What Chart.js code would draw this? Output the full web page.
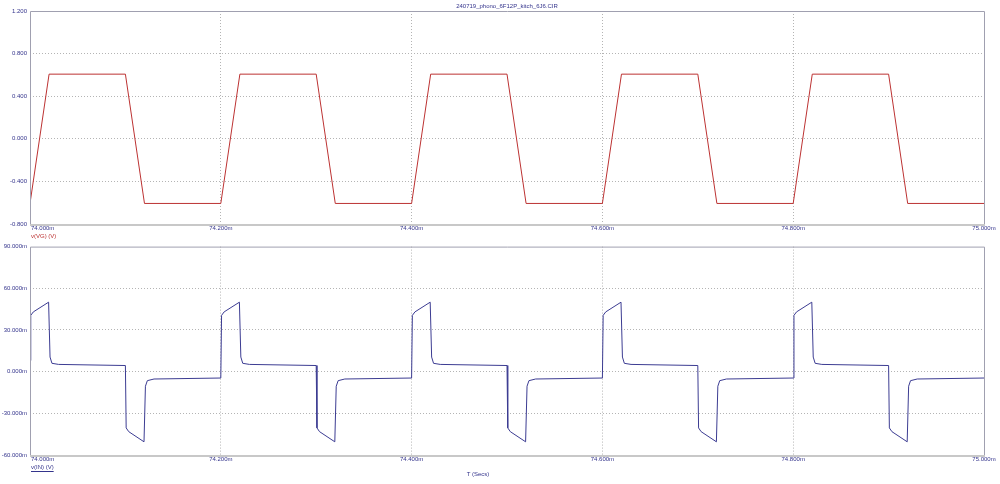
<!DOCTYPE html>
<html>
<head>
<meta charset="utf-8">
<script src="https://cdn.jsdelivr.net/npm/chart.js@4"></script>
<style>
  html, body { margin: 0; padding: 0; background: #ffffff; }
  #wrap { position: relative; width: 1000px; height: 484px; overflow: hidden; }
  canvas { position: absolute; left: 0; }
  #topChart { top: 0; }
  #bottomChart { top: 240px; }
</style>
</head>
<body>
<div id="wrap">
  <canvas id="topChart" width="1000" height="240"></canvas>
  <canvas id="bottomChart" width="1000" height="244"></canvas>
</div>
<script>
// Tick labels
const timeTickLabels = ['74.000m', '74.200m', '74.400m', '74.600m', '74.800m', '75.000m'];
const vgTickLabels = ['-0.800', '-0.400', '0.000', '0.400', '0.800', '1.200'];
const inTickLabels = ['-60.000m', '-30.000m', '0.000m', '30.000m', '60.000m', '90.000m'];

// v(VG), time in ms, value in V
const vgTimes = [74.000, 74.020, 74.100, 74.120,
                 74.200, 74.220, 74.300, 74.320,
                 74.400, 74.420, 74.500, 74.520,
                 74.600, 74.620, 74.700, 74.720,
                 74.800, 74.820, 74.900, 74.920,
                 75.000];
const vgValues = [-0.607, 0.607, 0.607, -0.607,
                  -0.607, 0.607, 0.607, -0.607,
                  -0.607, 0.607, 0.607, -0.607,
                  -0.607, 0.607, 0.607, -0.607,
                  -0.607, 0.607, 0.607, -0.607,
                  -0.607];

// v(IN), time in ms, value in mV
const inTimes = [
  74.0000, 74.0008, 74.0035, 74.0195, 74.0210, 74.0230, 74.0300,
  74.1000, 74.1008, 74.1035, 74.1195, 74.1210, 74.1230, 74.1300,
  74.2000, 74.2008, 74.2035, 74.2195, 74.2210, 74.2230, 74.2300,
  74.3000, 74.3008, 74.3035, 74.3195, 74.3210, 74.3230, 74.3300,
  74.4000, 74.4008, 74.4035, 74.4195, 74.4210, 74.4230, 74.4300,
  74.5000, 74.5008, 74.5035, 74.5195, 74.5210, 74.5230, 74.5300,
  74.6000, 74.6008, 74.6035, 74.6195, 74.6210, 74.6230, 74.6300,
  74.7000, 74.7008, 74.7035, 74.7195, 74.7210, 74.7230, 74.7300,
  74.8000, 74.8008, 74.8035, 74.8195, 74.8210, 74.8230, 74.8300,
  74.9000, 74.9008, 74.9035, 74.9195, 74.9210, 74.9230, 74.9300,
  75.0000
];
const inValues = [
  8.0, 40.5, 43.0, 50.0, 10.5, 6.0, 5.2,
  4.4, -40.5, -43.2, -50.5, -10.5, -6.5, -5.3,
  -4.6, 40.5, 43.0, 50.0, 10.5, 6.0, 5.2,
  4.4, -40.5, -43.2, -50.5, -10.5, -6.5, -5.3,
  -4.6, 40.5, 43.0, 50.0, 10.5, 6.0, 5.2,
  4.4, -40.5, -43.2, -50.5, -10.5, -6.5, -5.3,
  -4.6, 40.5, 43.0, 50.0, 10.5, 6.0, 5.2,
  4.4, -40.5, -43.2, -50.5, -10.5, -6.5, -5.3,
  -4.6, 40.5, 43.0, 50.0, 10.5, 6.0, 5.2,
  4.4, -40.5, -43.2, -50.5, -10.5, -6.5, -5.3,
  -4.6
];

const NAVY = '#34348c';
const LINE_BLUE = '#3c3c92';
const RED = '#bc3232';
const GRID = '#b4b4b4';
const FONT = '"Liberation Sans", Arial, sans-serif';

// frame, x labels and captions
const scopePlugin = {
  id: 'scope',
  afterDraw(chart, args, opts) {
    const { ctx, chartArea: a, scales: { x } } = chart;
    ctx.save();
    ctx.strokeStyle = '#a0a0b0';
    ctx.lineWidth = 1;
    ctx.beginPath();
    ctx.moveTo(a.left + 0.5, a.bottom);
    ctx.lineTo(a.left + 0.5, a.top + 0.5);
    ctx.lineTo(a.right + 0.5, a.top + 0.5);
    ctx.lineTo(a.right + 0.5, a.bottom);
    ctx.stroke();
    ctx.strokeStyle = '#c8c8c8';
    ctx.lineWidth = 2;
    ctx.beginPath();
    ctx.moveTo(a.left, a.bottom + 1);
    ctx.lineTo(a.right + 1, a.bottom + 1);
    ctx.stroke();

    ctx.font = '6px ' + FONT;
    ctx.fillStyle = NAVY;
    ctx.textBaseline = 'middle';
    x.ticks.forEach((t, i) => {
      ctx.textAlign = i === 0 ? 'left' : 'center';
      ctx.fillText(timeTickLabels[i], x.getPixelForValue(t.value) + (i === 0 ? 1 : 0), a.bottom + opts.labelGap);
    });

    (opts.texts || []).forEach(t => {
      ctx.font = (t.size || 6) + 'px ' + FONT;
      ctx.fillStyle = t.color;
      ctx.textAlign = t.align;
      ctx.fillText(t.text, t.x, t.y);
      if (t.underline) {
        const w = ctx.measureText(t.text).width;
        ctx.fillRect(t.x, t.y + 4, w, 1);
      }
    });
    ctx.restore();
  }
};

function makeChart(id, times, values, color, yMin, yMax, yStep, yLabels, pad, xHeight, opts) {
  const xMin = 74.0, xMax = 75.0;
  return new Chart(document.getElementById(id), {
    type: 'line',
    data: {
      datasets: [{
        data: times.map((t, i) => ({ x: t, y: values[i] })),
        borderColor: color,
        borderWidth: 1,
        pointRadius: 0,
        tension: 0,
        fill: false
      }]
    },
    options: {
      responsive: false,
      devicePixelRatio: 1,
      animation: false,
      layout: { padding: pad },
      plugins: { legend: { display: false }, tooltip: { enabled: false }, title: { display: false }, scope: opts },
      scales: {
        x: {
          type: 'linear',
          min: xMin,
          max: xMax,
          ticks: { display: false, stepSize: 0.2 },
          grid: {
            drawTicks: false,
            color: c => (Math.abs(c.tick.value - xMin) < 1e-6 || Math.abs(c.tick.value - xMax) < 1e-6) ? 'rgba(0,0,0,0)' : GRID
          },
          border: { display: false, dash: [1, 2] },
          afterFit: s => { s.height = xHeight; }
        },
        y: {
          min: yMin,
          max: yMax,
          ticks: {
            stepSize: yStep,
            padding: 3,
            color: NAVY,
            font: { family: FONT, size: 6 },
            callback: (v, i) => yLabels[i]
          },
          grid: {
            drawTicks: false,
            color: c => (Math.abs(c.tick.value - yMin) < 1e-6 || Math.abs(c.tick.value - yMax) < 1e-6) ? 'rgba(0,0,0,0)' : GRID
          },
          border: { display: false, dash: [1, 2] },
          afterFit: s => { s.width = 30; }
        }
      }
    },
    plugins: [scopePlugin]
  });
}

makeChart('topChart', vgTimes, vgValues, RED, -0.8, 1.2, 0.4, vgTickLabels,
  { left: 0, right: 16, top: 11, bottom: 0 }, 16, {
    labelGap: 4,
    texts: [
      { text: '240719_phono_6F12P_kitch_6J6.CIR', x: 507, y: 6, align: 'center', color: NAVY },
      { text: 'v(VG) (V)', x: 31, y: 236.5, align: 'left', color: RED }
    ]
  });

makeChart('bottomChart', inTimes, inValues, LINE_BLUE, -60, 90, 30, inTickLabels,
  { left: 0, right: 16, top: 4, bottom: 0 }, 29, {
    labelGap: 4,
    texts: [
      { text: 'v(IN) (V)', x: 31, y: 227, align: 'left', color: NAVY, underline: true },
      { text: 'T (Secs)', x: 478, y: 234, align: 'center', color: NAVY }
    ]
  });
</script>
</body>
</html>
